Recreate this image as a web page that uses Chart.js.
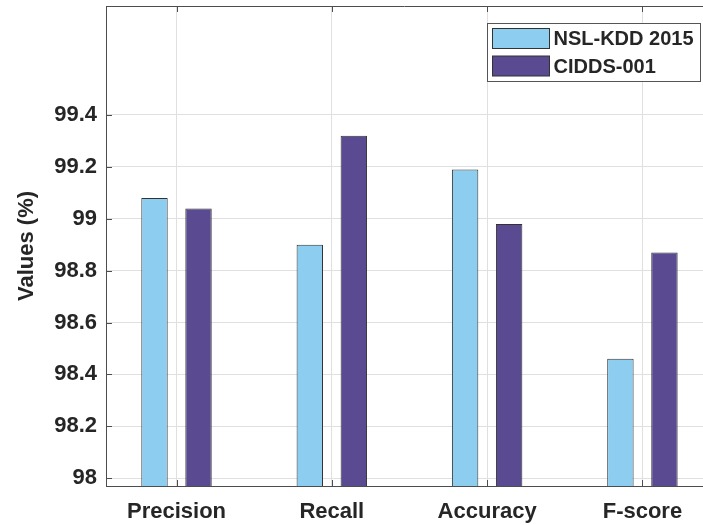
<!DOCTYPE html>
<html><head><meta charset="utf-8">
<script src="https://cdn.jsdelivr.net/npm/chart.js@4/dist/chart.umd.min.js"></script>
<style>html,body{margin:0;padding:0;background:#fff;overflow:hidden}#wrap{width:703px;height:525px;position:relative}</style>
</head><body><div id="wrap"><canvas id="c" width="703" height="525"></canvas></div>
<script>
const categories = ['Precision', 'Recall', 'Accuracy', 'F-score'];
const seriesNames = ['NSL-KDD 2015', 'CIDDS-001'];
const nslKdd = [99.08, 98.90, 99.19, 98.46];
const cidds = [99.04, 99.32, 98.98, 98.87];
const yTicks = [98, 98.2, 98.4, 98.6, 98.8, 99, 99.2, 99.4];
const yRange = [97.97, 99.82];
const xRange = [0.546, 4.39];
const seriesColors = ['#8ccdf0', '#5a4a91'];

const FONT = '"Liberation Sans", Arial, Helvetica, sans-serif';
const TXT = '#262626';

const framePlugin = {
  id: 'frame',
  afterDraw(chart) {
    const {ctx, chartArea: a, scales: {x, y}} = chart;
    ctx.save();
    ctx.strokeStyle = '#4d4d4d';
    ctx.lineWidth = 1;
    ctx.beginPath();
    ctx.moveTo(a.left, a.top + 0.5); ctx.lineTo(a.right, a.top + 0.5);
    x.ticks.forEach(t => {
      const px = Math.round(x.getPixelForValue(t.value)) + 0.5;
      ctx.moveTo(px, a.bottom); ctx.lineTo(px, a.bottom - 6);
      ctx.moveTo(px, a.top); ctx.lineTo(px, a.top + 6);
    });
    y.ticks.forEach(t => {
      const py = Math.round(y.getPixelForValue(t.value)) + 0.5;
      ctx.moveTo(a.left, py); ctx.lineTo(a.left + 6, py);
    });
    ctx.stroke();
    // legend
    const bx = Math.round(a.right - 216) + 0.5, by = Math.round(a.top + 17) + 0.5, bw = 213, bh = 58;
    ctx.fillStyle = '#fff';
    ctx.fillRect(bx, by, bw, bh);
    ctx.strokeStyle = '#555';
    ctx.strokeRect(bx, by, bw, bh);
    chart.data.datasets.forEach((ds, i) => {
      const sx = bx + 5, sy = by + 5 + i * 27.5;
      ctx.fillStyle = ds.backgroundColor;
      ctx.fillRect(sx, sy, 57, 20);
      ctx.strokeStyle = '#333';
      ctx.strokeRect(sx, sy, 57, 20);
      ctx.fillStyle = TXT;
      ctx.font = 'bold 20px ' + FONT;
      ctx.textBaseline = 'middle';
      ctx.textAlign = 'left';
      ctx.fillText(ds.label, bx + 66, sy + 11);
    });
    ctx.restore();
  }
};

new Chart(document.getElementById('c'), {
  type: 'bar',
  data: {
    datasets: [nslKdd, cidds].map((vals, i) => ({
      label: seriesNames[i],
      data: vals.map((v, j) => ({x: j + 1, y: v})),
      backgroundColor: seriesColors[i],
      borderColor: '#333',
      borderWidth: 1,
      borderSkipped: false,
      categoryPercentage: 0.567,
      barPercentage: 0.6
    }))
  },
  options: {
    responsive: false,
    animation: false,
    devicePixelRatio: 1,
    layout: {padding: {top: 6, right: 0, left: 0, bottom: 0}},
    plugins: {legend: {display: false}, tooltip: {enabled: false}},
    scales: {
      x: {
        type: 'linear',
        min: xRange[0], max: xRange[1],
        offset: false,
        afterBuildTicks: s => { s.ticks = categories.map((c, i) => ({value: i + 1})); },
        afterFit: s => { s.height = 39; s.paddingLeft = 0; s.paddingRight = 0; },
        grid: {color: '#e0e0e0', drawTicks: false, offset: false},
        border: {display: true, color: '#4d4d4d'},
        ticks: {
          padding: 13,
          color: TXT,
          font: {family: FONT, size: 22, weight: 'bold'},
          maxRotation: 0,
          callback: v => categories[Math.round(v) - 1]
        }
      },
      y: {
        type: 'linear',
        min: yRange[0], max: yRange[1],
        afterBuildTicks: s => { s.ticks = yTicks.map(v => ({value: v})); },
        afterFit: s => { s.width = 106; s.paddingTop = 0; s.paddingBottom = 0; },
        grid: {color: '#e0e0e0', drawTicks: false},
        border: {display: true, color: '#4d4d4d'},
        ticks: {
          padding: 9,
          color: TXT,
          font: {family: FONT, size: 22, weight: 'bold'},
          callback: v => String(+v.toFixed(1))
        },
        title: {
          display: true,
          text: 'Values (%)',
          color: TXT,
          font: {family: FONT, size: 22, weight: 'bold'},
          padding: {top: 14, bottom: 0}
        }
      }
    }
  },
  plugins: [framePlugin]
});
</script></body></html>
